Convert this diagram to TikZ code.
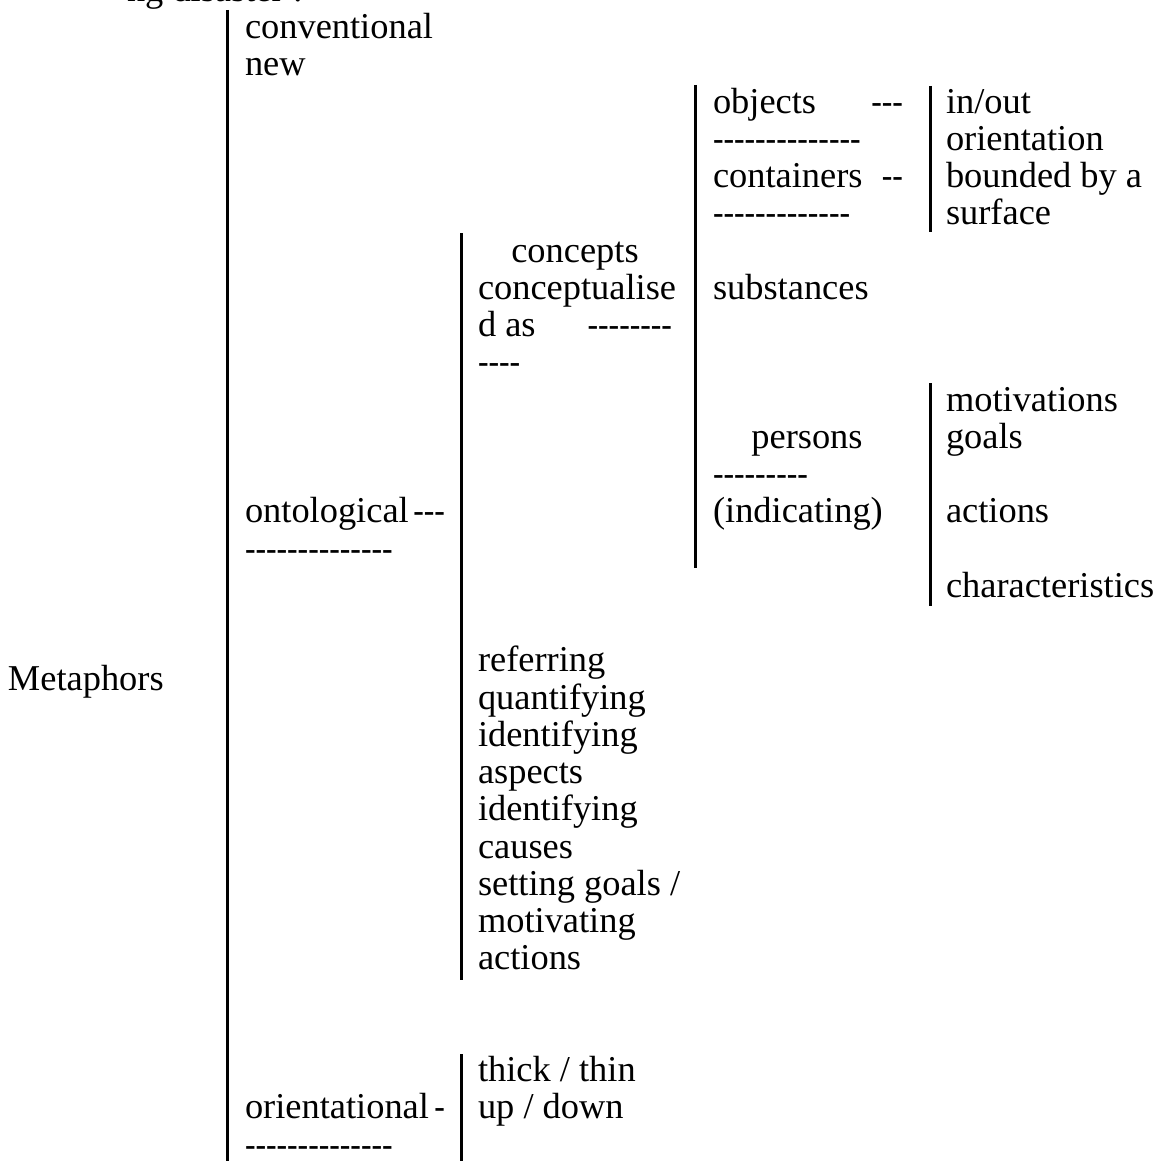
\documentclass[tikz,border=0pt]{standalone}
\usepackage{fontspec}
\setmainfont{Liberation Serif}[Ligatures=TeXOff]
\usepackage{graphicx}
\newcommand\hy[1]{\scalebox{0.87}[1]{#1}}
\begin{document}
\begin{tikzpicture}[x=0.5pt,y=-0.5pt,
  txt/.style={anchor=base west,inner sep=0pt,outer sep=0pt,font=\fontsize{18.2pt}{18.6pt}\selectfont},
  bar/.style={line width=1.5pt}]
\useasboundingbox (0,0) rectangle (1156,1161);
\clip (0,0) rectangle (1156,1161);
% vertical bars
\coordinate (b1t) at (227,10);   \coordinate (b1b) at (227,1170);
\coordinate (b2t) at (461,233);  \coordinate (b2b) at (461,980);
\coordinate (b3t) at (695,85);   \coordinate (b3b) at (695,568);
\coordinate (b4t) at (930,86);   \coordinate (b4b) at (930,232);
\coordinate (b5t) at (930,383);  \coordinate (b5b) at (930,606);
\coordinate (b6t) at (461,1054); \coordinate (b6b) at (461,1170);
\foreach \a in {1,...,6} {\draw[bar] (b\a t) -- (b\a b);}
% top clipped heading
\node[txt] (head) at (127,1.5) {ng disaster :};
% root
\node[txt] (root) at (8,690.4) {Metaphors};
% column 1
\node[txt] (conv) at (245,38.5) {conventional};
\node[txt] (new) at (245,75.75) {new};
\node[txt] (onto) at (245,522.75) {\hbox to 100pt{ontological\hfill\hy{---}}};
\node[txt] (ontod) at (245,560) {\hy{--------------}};
\node[txt] (orie) at (245,1118.75) {\hbox to 100pt{orientational\hfill\hy{-}}};
\node[txt] (oried) at (245,1156) {\hy{--------------}};
% column 2
\node[txt] (conc) at (478,262) {\hbox to 97pt{\hfil concepts\hfil}};
\node[txt] (concb) at (478,299.25) {conceptualise};
\node[txt] (concc) at (478,336.5) {\hbox to 97pt{d as\hfill\hy{--------}}};
\node[txt] (concd) at (478,373.75) {\hy{----}};
\node[txt] (r1) at (478,671.75) {referring};
\node[txt] (r2) at (478,709) {quantifying};
\node[txt] (r3) at (478,746.25) {identifying};
\node[txt] (r4) at (478,783.5) {aspects};
\node[txt] (r5) at (478,820.75) {identifying};
\node[txt] (r6) at (478,858) {causes};
\node[txt] (r7) at (478,895.25) {setting goals /};
\node[txt] (r8) at (478,932.5) {motivating};
\node[txt] (r9) at (478,969.75) {actions};
\node[txt] (thick) at (478,1081.5) {thick / thin};
\node[txt] (updown) at (478,1118.75) {up / down};
% column 3
\node[txt] (obj) at (713,113) {\hbox to 95pt{objects\hfill\hy{---}}};
\node[txt] (objd) at (713,150.25) {\hy{--------------}};
\node[txt] (cont) at (713,187.5) {\hbox to 95pt{containers\hfill\hy{--}}};
\node[txt] (contd) at (713,224.75) {\hy{-------------}};
\node[txt] (subs) at (713,299.25) {substances};
\node[txt] (pers) at (713,448.25) {\hbox to 94pt{\hfil persons\hfil}};
\node[txt] (persd) at (713,485.5) {\hy{---------}};
\node[txt] (indic) at (713,522.75) {(indicating)};
% column 4
\node[txt] (inout) at (946,113) {in/out};
\node[txt] (orient) at (946,150.25) {orientation};
\node[txt] (bound) at (946,187.5) {bounded by a};
\node[txt] (surf) at (946,224.75) {surface};
\node[txt] (motiv) at (946,411) {motivations};
\node[txt] (goals) at (946,448.25) {goals};
\node[txt] (act) at (946,522.75) {actions};
\node[txt] (chars) at (946,597.25) {characteristics};
\end{tikzpicture}
\end{document}
